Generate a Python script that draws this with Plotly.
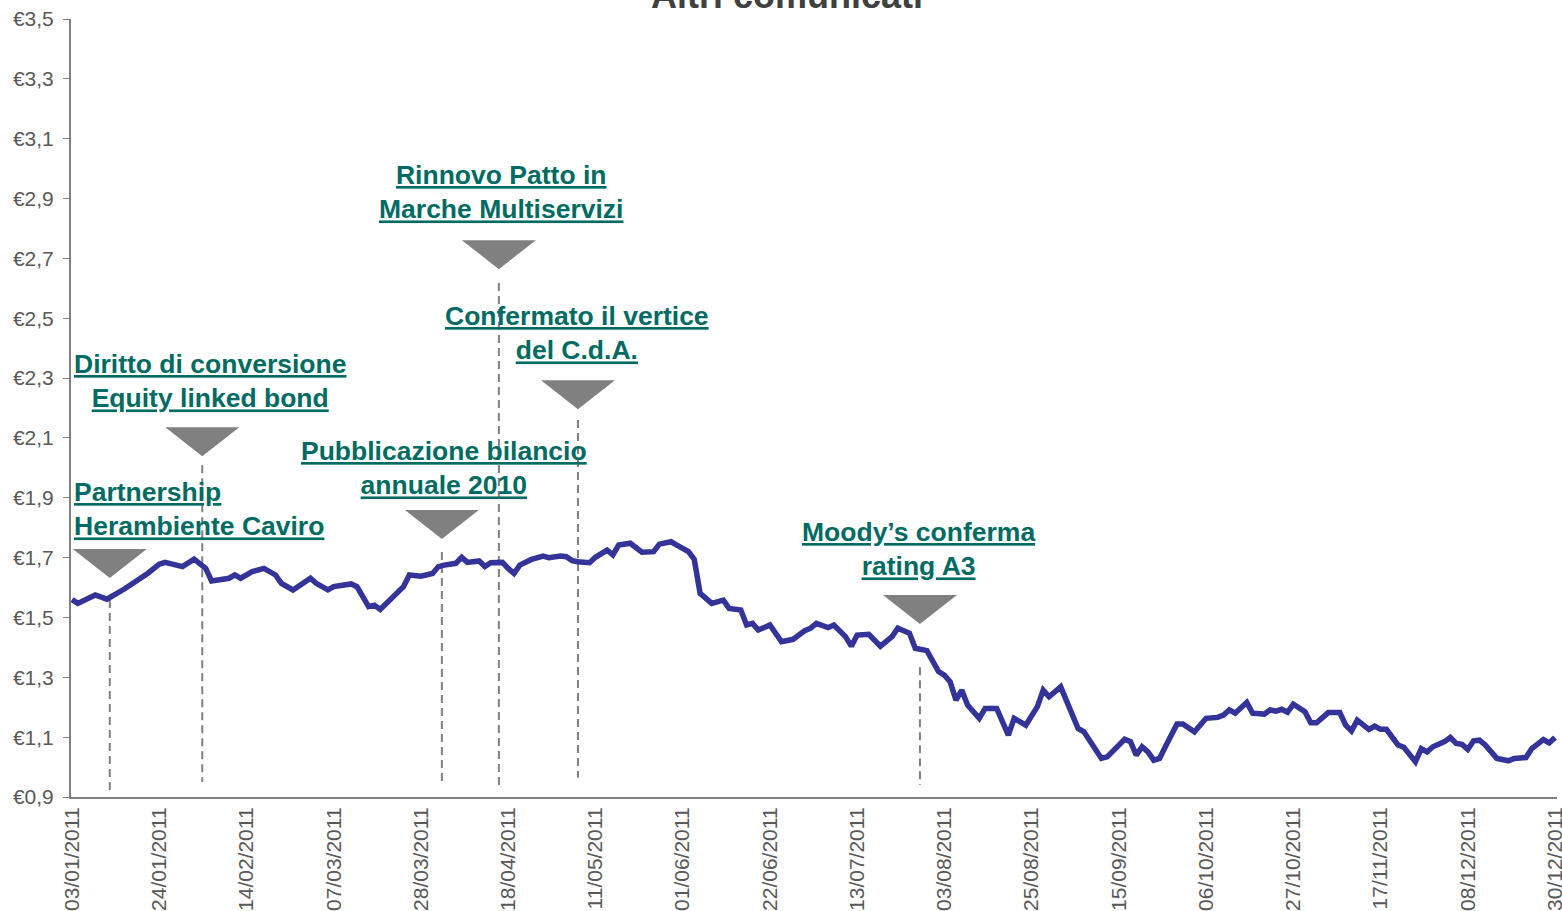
import plotly.graph_objects as go

# ---------------- data ----------------
x_tick_labels = ["03/01/2011", "24/01/2011", "14/02/2011", "07/03/2011", "28/03/2011",
                 "18/04/2011", "11/05/2011", "01/06/2011", "22/06/2011", "13/07/2011",
                 "03/08/2011", "25/08/2011", "15/09/2011", "06/10/2011", "27/10/2011",
                 "17/11/2011", "08/12/2011", "30/12/2011"]
x_tick_days = [0, 15, 30, 45, 60, 75, 90, 105, 120, 135, 150, 165, 180, 195, 210, 225, 240, 255]

y_tick_vals = [0.9, 1.1, 1.3, 1.5, 1.7, 1.9, 2.1, 2.3, 2.5, 2.7, 2.9, 3.1, 3.3, 3.5]
y_tick_text = ["€0,9", "€1,1", "€1,3", "€1,5", "€1,7", "€1,9", "€2,1", "€2,3", "€2,5",
               "€2,7", "€2,9", "€3,1", "€3,3", "€3,5"]

# trading-day index (0 = 03/01/2011) and share price (€)
day_index = [0, 1, 4, 6, 9, 10, 11, 13, 15, 16, 19, 21, 23, 24, 27, 28, 29, 31, 33, 35,
             36, 38, 41, 42, 44, 45, 48, 49, 51, 52, 53, 54, 56, 57, 58, 60, 62, 63, 64, 66,
             67, 68, 70, 71, 72, 74, 75, 76, 77, 79, 81, 82, 84, 85, 86, 87, 89, 90, 92, 93,
             94, 96, 98, 100, 101, 103, 104, 106, 107, 108, 110, 112, 113, 115, 116, 117, 118, 120, 122, 124,
             126, 127, 128, 130, 131, 133, 134, 135, 137, 138, 139, 141, 142, 144, 145, 147, 148, 149, 150, 151,
             152, 153, 154, 156, 157, 159, 161, 162, 164, 166, 167, 168, 170, 173, 174, 175, 177, 178, 181, 182,
             183, 184, 185, 186, 187, 188, 190, 191, 193, 195, 197, 198, 199, 200, 202, 203, 205, 206, 207, 208,
             209, 210, 212, 213, 214, 216, 218, 219, 220, 221, 223, 224, 225, 226, 228, 229, 231, 232, 233, 234,
             236, 237, 238, 239, 240, 241, 242, 243, 245, 247, 248, 250, 251, 253, 254, 255]
price = [1.560, 1.547, 1.575, 1.561, 1.595, 1.608, 1.619, 1.647, 1.678, 1.684, 1.670, 1.695, 1.664, 1.622, 1.631, 1.642, 1.631, 1.653, 1.664, 1.642,
         1.614, 1.592, 1.631, 1.614, 1.592, 1.603, 1.612, 1.603, 1.536, 1.541, 1.527, 1.545, 1.586, 1.603, 1.642, 1.638, 1.647, 1.670, 1.675, 1.681,
         1.701, 1.684, 1.689, 1.670, 1.683, 1.684, 1.664, 1.647, 1.675, 1.694, 1.705, 1.700, 1.705, 1.703, 1.690, 1.686, 1.683, 1.701, 1.725, 1.709,
         1.742, 1.748, 1.718, 1.720, 1.745, 1.753, 1.742, 1.720, 1.694, 1.581, 1.547, 1.558, 1.530, 1.525, 1.475, 1.480, 1.458, 1.475, 1.419, 1.427,
         1.456, 1.464, 1.480, 1.466, 1.475, 1.436, 1.404, 1.441, 1.444, 1.424, 1.404, 1.436, 1.464, 1.447, 1.397, 1.389, 1.358, 1.319, 1.307, 1.285,
         1.224, 1.257, 1.207, 1.163, 1.196, 1.196, 1.107, 1.163, 1.140, 1.202, 1.257, 1.235, 1.268, 1.129, 1.118, 1.090, 1.029, 1.034, 1.093, 1.085,
         1.040, 1.068, 1.051, 1.023, 1.029, 1.068, 1.144, 1.144, 1.118, 1.163, 1.166, 1.174, 1.191, 1.180, 1.216, 1.180, 1.177, 1.191, 1.187, 1.193,
         1.183, 1.210, 1.185, 1.148, 1.148, 1.182, 1.182, 1.140, 1.121, 1.157, 1.126, 1.137, 1.126, 1.126, 1.074, 1.066, 1.018, 1.062, 1.051, 1.068,
         1.085, 1.099, 1.079, 1.076, 1.059, 1.088, 1.090, 1.074, 1.029, 1.021, 1.029, 1.032, 1.062, 1.092, 1.081, 1.099]

# events ("comunicati")
event_lines = [["Partnership", "Herambiente Caviro"],
               ["Diritto di conversione", "Equity linked bond"],
               ["Pubblicazione bilancio", "annuale 2010"],
               ["Rinnovo Patto in", "Marche Multiservizi"],
               ["Confermato il vertice", "del C.d.A."],
               ["Moody’s conferma", "rating A3"]]
event_day = [6.5, 22.4, 63.6, 73.4, 87.0, 145.8]
event_marker_y = [1.729, 2.136, 1.859, 2.761, 2.293, 1.575]
event_line_top = [1.558, 2.009, 1.719, 2.618, 2.160, 1.334]
event_line_bottom = [0.923, 0.950, 0.947, 0.930, 0.964, 0.940]
label_day = [0.0, 23.7, 63.9, 73.8, 86.9, 145.6]
label_y = [1.862, 2.290, 1.999, 2.922, 2.450, 1.729]
label_align = ["left", "center", "center", "center", "center", "center"]

title_text = "Altri comunicati"

# ---------------- figure ----------------
LINE_COLOR = "#333399"
GREY = "#808080"
TEAL = "#006b63"
FONT = "Liberation Sans, Arial, sans-serif"

fig = go.Figure()
fig.add_trace(go.Scatter(x=day_index, y=price, mode="lines",
                         line=dict(color=LINE_COLOR, width=5.5), hoverinfo="skip",
                         showlegend=False))

shapes = []
annotations = []
for i in range(len(event_day)):
    shapes.append(dict(type="line", xref="x", yref="y",
                       x0=event_day[i], x1=event_day[i],
                       y0=event_line_top[i], y1=event_line_bottom[i],
                       line=dict(color=GREY, width=2, dash="8px,5px"), layer="below"))
    shapes.append(dict(type="path", xref="x", yref="y",
                       xsizemode="pixel", ysizemode="pixel",
                       xanchor=event_day[i], yanchor=event_marker_y[i],
                       path="M -37,0 L 37,0 L 0,-29 Z",
                       fillcolor=GREY, line=dict(width=0)))
    txt = "<br>".join("<b><u>%s</u></b>" % s for s in event_lines[i])
    annotations.append(dict(xref="x", yref="y", x=label_day[i], y=label_y[i],
                            text=txt, showarrow=False, align=label_align[i],
                            xanchor="left" if label_align[i] == "left" else "center",
                            yanchor="middle",
                            font=dict(family=FONT, size=26.5, color=TEAL)))

annotations.append(dict(xref="paper", yref="paper", x=(787 - 71) / 1486, y=1,
                        xanchor="center", yanchor="bottom", yshift=1,
                        text="<b>%s</b>" % title_text, showarrow=False,
                        font=dict(family=FONT, size=36, color="#404040")))

fig.update_layout(
    width=1562, height=911,
    margin=dict(l=71, r=5, t=19, b=114, autoexpand=False),
    paper_bgcolor="white", plot_bgcolor="white",
    shapes=shapes, annotations=annotations,
    showlegend=False,
    font=dict(family=FONT),
)
fig.update_xaxes(range=[-0.17, 255.34], showgrid=False, zeroline=False, automargin=False,
                 showline=True, linecolor=GREY, linewidth=2,
                 tickmode="array", tickvals=x_tick_days, ticktext=x_tick_labels,
                 tickangle=-90, ticks="", ticklabeloverflow="allow",
                 tickfont=dict(family=FONT, size=21, color="#595959"))
fig.update_yaxes(range=[0.9, 3.5], showgrid=False, zeroline=False, automargin=False,
                 showline=True, linecolor=GREY, linewidth=2,
                 tickmode="array", tickvals=y_tick_vals, ticktext=y_tick_text,
                 ticks="outside", ticklen=6, tickcolor=GREY, tickwidth=1,
                 ticklabeloverflow="allow", ticklabelstandoff=5,
                 tickfont=dict(family=FONT, size=21, color="#595959"))

fig.write_html("out.html", config={"displayModeBar": False},
               post_script="document.body.style.margin='0';document.body.style.overflow='hidden';")
